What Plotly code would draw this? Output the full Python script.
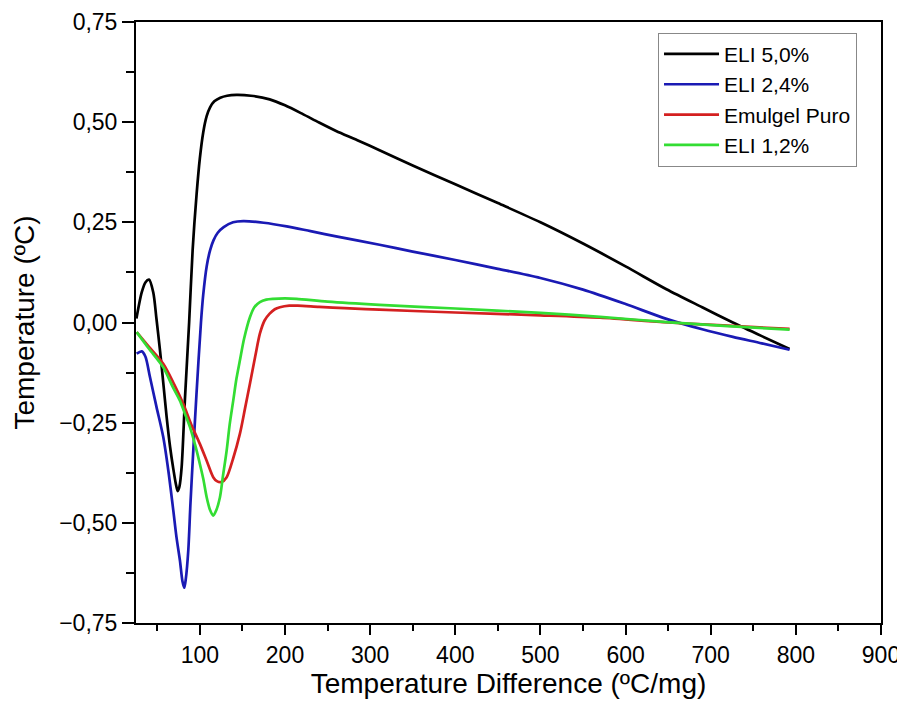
import plotly.graph_objects as go

# ---- data ----
eli50_x = [25.5, 31.7, 36, 40.3, 45.3, 49, 53.2, 57, 61, 65, 68.8, 72, 74, 76, 78.6, 82.5, 87.4,
           91.5, 96.2, 100, 104, 108, 112, 117, 124, 132, 143, 160, 182, 200, 221, 240, 260,
           285, 311, 350, 400, 450, 500, 550, 600, 648, 690, 726, 760, 792.6]
eli50_y = [0.01, 0.075, 0.100, 0.107, 0.075, 0.01, -0.07, -0.15, -0.236, -0.31, -0.365, -0.405,
           -0.421, -0.41, -0.361, -0.19, 0.0, 0.18, 0.321, 0.41, 0.475, 0.515, 0.537, 0.552, 0.561,
           0.566, 0.568, 0.566, 0.557, 0.542, 0.52, 0.499, 0.478, 0.455, 0.43, 0.392, 0.345, 0.298,
           0.25, 0.197, 0.14, 0.083, 0.038, 0.0, -0.034, -0.066]

eli24_x = [25.8, 31.7, 36, 41.4, 49, 57, 63, 68.8, 72.5, 76.6, 79.5, 81.7, 83.5, 86.4, 89, 92.3, 96,
           101.3, 104, 108, 112, 116, 121, 128, 139, 151, 175, 202, 230, 260, 311, 350, 400,
           450, 500, 550, 600, 648, 690, 726, 760, 792.6]
eli24_y = [-0.078, -0.072, -0.085, -0.136, -0.21, -0.286, -0.37, -0.469, -0.535, -0.594, -0.645,
           -0.662, -0.64, -0.569, -0.45, -0.319, -0.18, 0.0, 0.07, 0.14, 0.18, 0.205, 0.224, 0.238,
           0.25, 0.253, 0.249, 0.24, 0.228, 0.215, 0.194, 0.177, 0.156, 0.134, 0.111, 0.082,
           0.046, 0.009, -0.017, -0.036, -0.052, -0.068]

puro_x = [25.8, 40, 57, 70, 80.5, 90, 100, 108, 115.7, 120, 125.6, 131.5, 139, 147, 153, 158.8, 165,
          170.5, 176, 182, 188, 194, 205, 215, 240, 270, 311, 400, 500, 570, 650, 720, 792.6]
puro_y = [-0.024, -0.06, -0.103, -0.155, -0.203, -0.255, -0.303, -0.345, -0.386, -0.396, -0.398,
          -0.386, -0.34, -0.278, -0.215, -0.153, -0.085, -0.028, 0.005, 0.022, 0.033, 0.038, 0.042,
          0.042, 0.039, 0.036, 0.032, 0.025, 0.018, 0.012, 0.0, -0.008, -0.016]

eli12_x = [25.8, 40, 57, 68, 76.6, 82, 88.4, 95, 100, 104, 108, 112, 115.7, 119, 123.6, 127, 131.5,
           135, 139.2, 143, 147, 152, 158.8, 164, 170.5, 178, 186, 200, 213.6, 250, 311, 400, 500,
           570, 648, 720, 792.6]
eli12_y = [-0.024, -0.065, -0.112, -0.16, -0.195, -0.225, -0.261, -0.31, -0.353, -0.39, -0.436,
           -0.468, -0.482, -0.47, -0.436, -0.385, -0.319, -0.255, -0.195, -0.14, -0.095, -0.04,
           0.013, 0.038, 0.051, 0.057, 0.059, 0.06, 0.059, 0.052, 0.044, 0.035, 0.024, 0.014, 0.001,
           -0.009, -0.018]

series = [
    ("ELI 5,0%", eli50_x, eli50_y, "#000000"),
    ("ELI 2,4%", eli24_x, eli24_y, "#1a1ab4"),
    ("Emulgel Puro", puro_x, puro_y, "#d42020"),
    ("ELI 1,2%", eli12_x, eli12_y, "#33dd33"),
]

FONT = "Liberation Sans, Arial, sans-serif"

fig = go.Figure()
for name, xs, ys, col in series:
    fig.add_trace(go.Scatter(x=xs, y=ys, name=name, mode="lines",
                             line=dict(color=col, width=2.7, shape="spline", smoothing=0.8)))

axis_common = dict(showline=True, linewidth=2, linecolor="black", mirror=True, showgrid=False,
                   zeroline=False, ticks="outside", tickwidth=2, tickcolor="black", automargin=False,
                   tickfont=dict(family=FONT, size=23, color="black"))

fig.update_layout(
    width=897, height=710,
    margin=dict(l=128, r=24, t=14, b=95),
    paper_bgcolor="white", plot_bgcolor="white",
    separators=",.",
    font=dict(family=FONT, color="black"),
    showlegend=True,
    legend=dict(x=0.7007, y=0.982, xanchor="left", yanchor="top", itemwidth=55,
                bordercolor="#888888", borderwidth=1, bgcolor="white",
                font=dict(family=FONT, size=21, color="black"), tracegroupgap=0),
    xaxis=dict(range=[25, 900], tick0=0, dtick=100, ticklen=10,
               minor=dict(ticks="outside", ticklen=6, tickwidth=2, tickcolor="black", dtick=50, tick0=0, showgrid=False),
               title=dict(text="Temperature Difference (ºC/mg)", font=dict(family=FONT, size=28, color="black"), standoff=6),
               **axis_common),
    yaxis=dict(range=[-0.75, 0.75], tick0=0, dtick=0.25, tickformat=".2f", ticklen=12,
               minor=dict(ticks="outside", ticklen=8, tickwidth=2, tickcolor="black", dtick=0.125, tick0=0, showgrid=False),
               title=dict(text="Temperature (ºC)", font=dict(family=FONT, size=28, color="black"), standoff=16),
               **axis_common),
)

fig.write_html("out.html")
